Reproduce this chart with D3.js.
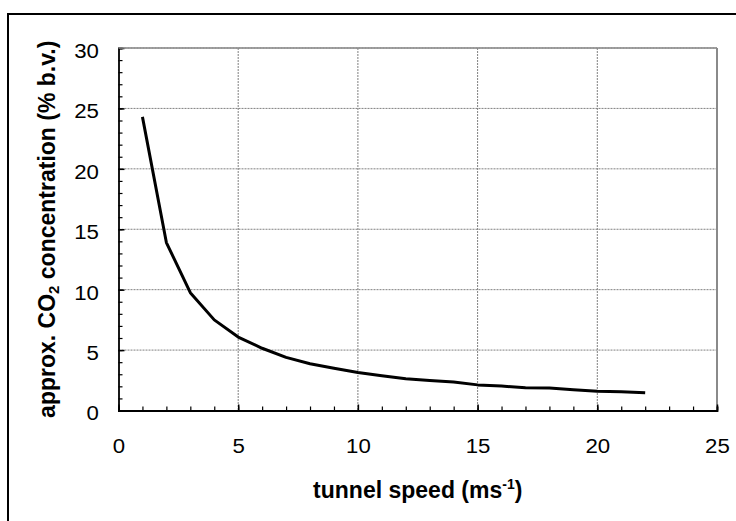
<!DOCTYPE html>
<html>
<head>
<meta charset="utf-8">
<script src="https://cdn.jsdelivr.net/npm/d3@7"></script>
<style>
  html, body { margin: 0; padding: 0; background: #fff; }
  svg { display: block; font-family: "Liberation Sans", Arial, sans-serif; }
</style>
</head>
<body>
<svg id="chart" width="736" height="521"></svg>
<script>
// Tunnel speed (m/s) and approximate CO2 concentration (% by volume)
const speeds = [1, 2, 3, 4, 5, 6, 7, 8, 9, 10, 11, 12, 13, 14, 15, 16, 17, 18, 19, 20, 21, 22];
const co2 = [24.3, 13.9, 9.75, 7.5, 6.08, 5.15, 4.4, 3.87, 3.5, 3.14, 2.88, 2.62, 2.48, 2.36, 2.12, 2.02, 1.88, 1.86, 1.72, 1.59, 1.56, 1.47];
const xTicks = [0, 5, 10, 15, 20, 25];
const yTicks = [0, 5, 10, 15, 20, 25, 30];

const svg = d3.select("#chart");
const plotL = 118.5, plotR = 717, plotT = 48, plotB = 410.5;
const FONT = "'Liberation Sans', Arial, sans-serif";

const x = d3.scaleLinear().domain([0, 25]).range([plotL, plotR]);
const y = d3.scaleLinear().domain([0, 30]).range([plotB, plotT]);

// outer frame
svg.append("rect")
  .attr("x", 8).attr("y", 14).attr("width", 760).attr("height", 540)
  .attr("fill", "none").attr("stroke", "#000").attr("stroke-width", 2);

// grid
const grid = svg.append("g").attr("stroke", "#808080").attr("stroke-width", 1)
  .attr("stroke-dasharray", "2,1");
grid.selectAll(".gx").data(xTicks.filter(d => d > 0 && d < 25)).join("line")
  .attr("x1", d => x(d)).attr("x2", d => x(d)).attr("y1", plotT).attr("y2", plotB);
grid.selectAll(".gy").data(yTicks.filter(d => d > 0)).join("line")
  .attr("x1", plotL).attr("x2", plotR).attr("y1", d => y(d)).attr("y2", d => y(d));

// right edge of plot area
svg.append("line")
  .attr("x1", plotR).attr("x2", plotR).attr("y1", plotT).attr("y2", plotB)
  .attr("stroke", "#8a8a8a").attr("stroke-width", 2);

// axes with inward ticks
const minorX = d3.range(0, 26);
const minorY = d3.range(0, 31);

const gx = svg.append("g").attr("transform", `translate(0,${plotB})`);
gx.call(d3.axisBottom(x).tickValues(minorX).tickSize(-4).tickFormat(""));
gx.selectAll(".tick line").attr("stroke-width", 1.2);
const gxMaj = svg.append("g").attr("transform", `translate(0,${plotB})`);
gxMaj.call(d3.axisBottom(x).tickValues(xTicks).tickSize(-6).tickPadding(0).tickFormat(d3.format("d")));
gxMaj.select(".domain").remove();
gxMaj.selectAll(".tick line").attr("stroke-width", 1.5);
gxMaj.selectAll(".tick text")
  .attr("font-family", FONT).attr("font-size", 21).attr("fill", "#000")
  .attr("y", 0).attr("dy", null)
  .attr("transform", "translate(0,42) scale(1.06,1)");

const gy = svg.append("g").attr("transform", `translate(${plotL},0)`);
gy.call(d3.axisLeft(y).tickValues(minorY).tickSize(-4).tickFormat(""));
gy.selectAll(".tick line").attr("stroke-width", 1.2);
const gyMaj = svg.append("g").attr("transform", `translate(${plotL},0)`);
gyMaj.call(d3.axisLeft(y).tickValues(yTicks).tickSize(-6).tickPadding(20).tickFormat(d3.format("d")));
gyMaj.select(".domain").remove();
gyMaj.selectAll(".tick line").attr("stroke-width", 1.5);
gyMaj.selectAll(".tick text")
  .attr("font-family", FONT).attr("font-size", 21).attr("fill", "#000")
  .attr("x", 0).attr("dy", "0.45em")
  .attr("transform", "translate(-19.5,0) scale(1.06,1)");

svg.selectAll(".domain").attr("stroke", "#000").attr("stroke-width", 1.8);

// top edge of plot area
svg.append("line")
  .attr("x1", plotL).attr("x2", plotR).attr("y1", plotT).attr("y2", plotT)
  .attr("stroke", "#8a8a8a").attr("stroke-width", 1.5);

// curve
svg.append("path")
  .datum(speeds.map((s, i) => [s, co2[i]]))
  .attr("fill", "none").attr("stroke", "#000").attr("stroke-width", 3)
  .attr("stroke-linejoin", "round")
  .attr("d", d3.line().x(d => x(d[0])).y(d => y(d[1])));

// axis titles
const xt = svg.append("text")
  .attr("x", (plotL + plotR) / 2).attr("y", 498)
  .attr("text-anchor", "middle").attr("font-size", 23).attr("font-weight", "bold");
xt.append("tspan").text("tunnel speed (ms");
xt.append("tspan").attr("font-size", 14).attr("dy", -9).text("-1");
xt.append("tspan").attr("dy", 9).text(")");

const yt = svg.append("text")
  .attr("transform", `translate(55,${(plotT + plotB) / 2}) rotate(-90)`)
  .attr("text-anchor", "middle").attr("font-size", 23).attr("font-weight", "bold");
yt.append("tspan").text("approx. CO");
yt.append("tspan").attr("font-size", 15).attr("dy", 4).text("2");
yt.append("tspan").attr("dy", -4).text(" concentration (% b.v.)");
</script>
</body>
</html>
